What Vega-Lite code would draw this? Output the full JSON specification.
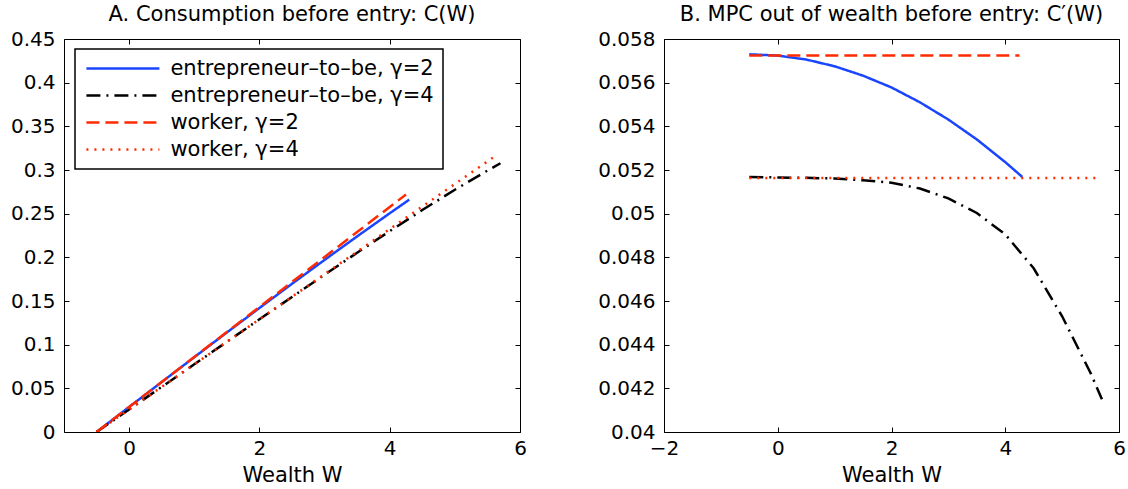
{
  "$schema": "https://vega.github.io/schema/vega-lite/v6.json",
  "background": "white",
  "padding": {"left": 9, "top": 3, "right": 5, "bottom": 5},
  "spacing": 144,
  "bounds": "flush",
  "config": {
    "view": {"stroke": "black", "strokeWidth": 1},
    "font": "DejaVu Sans",
    "axis": {
      "labelFont": "DejaVu Sans", "labelFontSize": 20, "labelColor": "black",
      "titleFont": "DejaVu Sans", "titleFontSize": 21, "titleFontWeight": "normal", "titleColor": "black",
      "domain": false, "grid": false, "tickColor": "black", "tickSize": -5, "labelPadding": 14, "titlePadding": 6,
      "labelOverlap": false, "labelFlush": false
    },
    "axisX": {"labelPadding": 11.5},
    "title": {"font": "DejaVu Sans", "fontSize": 21, "fontWeight": "normal", "color": "black", "offset": 4},
    "legend": {
      "orient": "none", "legendX": 11, "legendY": 10, "title": null,
      "symbolType": "M-4,0H4", "symbolSize": 333, "symbolOffset": 28.4,
      "labelFont": "DejaVu Sans", "labelFontSize": 21, "labelColor": "black", "labelLimit": 400,
      "strokeColor": "black", "strokeWidth": 1.5, "fillColor": "white", "padding": 9, "rowPadding": 5, "labelOffset": 37
    }
  },
  "datasets": {
    "level": [
      {"s": "entrepreneur–to–be, γ=2", "w": -0.5, "v": 0.0},
      {"s": "entrepreneur–to–be, γ=2", "w": 0.0, "v": 0.02864},
      {"s": "entrepreneur–to–be, γ=2", "w": 0.5, "v": 0.05722},
      {"s": "entrepreneur–to–be, γ=2", "w": 1.0, "v": 0.08568},
      {"s": "entrepreneur–to–be, γ=2", "w": 1.5, "v": 0.11395},
      {"s": "entrepreneur–to–be, γ=2", "w": 2.0, "v": 0.14198},
      {"s": "entrepreneur–to–be, γ=2", "w": 2.5, "v": 0.16971},
      {"s": "entrepreneur–to–be, γ=2", "w": 3.0, "v": 0.19706},
      {"s": "entrepreneur–to–be, γ=2", "w": 3.5, "v": 0.224},
      {"s": "entrepreneur–to–be, γ=2", "w": 4.0, "v": 0.25044},
      {"s": "entrepreneur–to–be, γ=2", "w": 4.3, "v": 0.26605},
      {"s": "entrepreneur–to–be, γ=4", "w": -0.5, "v": 0.0},
      {"s": "entrepreneur–to–be, γ=4", "w": 0.0, "v": 0.02584},
      {"s": "entrepreneur–to–be, γ=4", "w": 0.5, "v": 0.05166},
      {"s": "entrepreneur–to–be, γ=4", "w": 1.0, "v": 0.07747},
      {"s": "entrepreneur–to–be, γ=4", "w": 1.5, "v": 0.10326},
      {"s": "entrepreneur–to–be, γ=4", "w": 2.0, "v": 0.129},
      {"s": "entrepreneur–to–be, γ=4", "w": 2.5, "v": 0.15464},
      {"s": "entrepreneur–to–be, γ=4", "w": 3.0, "v": 0.1801},
      {"s": "entrepreneur–to–be, γ=4", "w": 3.5, "v": 0.20527},
      {"s": "entrepreneur–to–be, γ=4", "w": 4.0, "v": 0.23002},
      {"s": "entrepreneur–to–be, γ=4", "w": 4.5, "v": 0.25413},
      {"s": "entrepreneur–to–be, γ=4", "w": 5.0, "v": 0.27734},
      {"s": "entrepreneur–to–be, γ=4", "w": 5.5, "v": 0.29934},
      {"s": "entrepreneur–to–be, γ=4", "w": 5.7, "v": 0.30776},
      {"s": "worker, γ=2", "w": -0.5, "v": 0.0},
      {"s": "worker, γ=2", "w": 4.25, "v": 0.27194},
      {"s": "worker, γ=4", "w": -0.5, "v": 0.0},
      {"s": "worker, γ=4", "w": 5.65, "v": 0.31752}
    ],
    "mpc": [
      {"s": "entrepreneur–to–be, γ=2", "w": -0.5, "v": 0.0573},
      {"s": "entrepreneur–to–be, γ=2", "w": 0.0, "v": 0.05724},
      {"s": "entrepreneur–to–be, γ=2", "w": 0.5, "v": 0.05706},
      {"s": "entrepreneur–to–be, γ=2", "w": 1.0, "v": 0.05675},
      {"s": "entrepreneur–to–be, γ=2", "w": 1.5, "v": 0.05632},
      {"s": "entrepreneur–to–be, γ=2", "w": 2.0, "v": 0.05578},
      {"s": "entrepreneur–to–be, γ=2", "w": 2.5, "v": 0.0551},
      {"s": "entrepreneur–to–be, γ=2", "w": 3.0, "v": 0.05431},
      {"s": "entrepreneur–to–be, γ=2", "w": 3.5, "v": 0.0534},
      {"s": "entrepreneur–to–be, γ=2", "w": 4.0, "v": 0.05236},
      {"s": "entrepreneur–to–be, γ=2", "w": 4.3, "v": 0.05168},
      {"s": "entrepreneur–to–be, γ=4", "w": -0.5, "v": 0.05168},
      {"s": "entrepreneur–to–be, γ=4", "w": 0.0, "v": 0.05166},
      {"s": "entrepreneur–to–be, γ=4", "w": 0.5, "v": 0.05164},
      {"s": "entrepreneur–to–be, γ=4", "w": 1.0, "v": 0.05161},
      {"s": "entrepreneur–to–be, γ=4", "w": 1.5, "v": 0.05153},
      {"s": "entrepreneur–to–be, γ=4", "w": 2.0, "v": 0.05142},
      {"s": "entrepreneur–to–be, γ=4", "w": 2.5, "v": 0.05115},
      {"s": "entrepreneur–to–be, γ=4", "w": 3.0, "v": 0.0507},
      {"s": "entrepreneur–to–be, γ=4", "w": 3.5, "v": 0.05003},
      {"s": "entrepreneur–to–be, γ=4", "w": 4.0, "v": 0.04905},
      {"s": "entrepreneur–to–be, γ=4", "w": 4.5, "v": 0.0475},
      {"s": "entrepreneur–to–be, γ=4", "w": 5.0, "v": 0.0453},
      {"s": "entrepreneur–to–be, γ=4", "w": 5.5, "v": 0.0427},
      {"s": "entrepreneur–to–be, γ=4", "w": 5.7, "v": 0.0415},
      {"s": "worker, γ=2", "w": -0.5, "v": 0.05725},
      {"s": "worker, γ=2", "w": 4.25, "v": 0.05725},
      {"s": "worker, γ=4", "w": -0.5, "v": 0.05163},
      {"s": "worker, γ=4", "w": 5.65, "v": 0.05163}
    ]
  },
  "hconcat": [
    {
      "width": 456, "height": 393,
      "title": "A. Consumption before entry: C(W)",
      "data": {"name": "level"},
      "layer": [
        {
          "mark": {"type": "line", "clip": true},
          "encoding": {
            "x": {"field": "w", "type": "quantitative", "scale": {"domain": [-1, 6], "nice": false, "zero": false}, "axis": {"title": "Wealth W", "values": [0, 2, 4, 6]}},
            "y": {"field": "v", "type": "quantitative", "scale": {"domain": [0, 0.45], "nice": false}, "axis": {"title": null, "values": [0, 0.05, 0.1, 0.15, 0.2, 0.25, 0.3, 0.35, 0.4, 0.45], "format": ".2~f"}},
            "color": {"field": "s", "type": "nominal", "scale": {"domain": ["entrepreneur–to–be, γ=2", "entrepreneur–to–be, γ=4", "worker, γ=2", "worker, γ=4"], "range": ["#1a45ff", "#000000", "#ff2a00", "#ff2a00"]}, "legend": {"symbolType": "M-4,0H4"}},
            "strokeDash": {"field": "s", "type": "nominal", "scale": {"domain": ["entrepreneur–to–be, γ=2", "entrepreneur–to–be, γ=4", "worker, γ=2", "worker, γ=4"], "range": [[1, 0], [14, 6, 2, 6], [13, 6], [2, 6]]}},
            "strokeWidth": {"field": "s", "type": "nominal", "scale": {"domain": ["entrepreneur–to–be, γ=2", "entrepreneur–to–be, γ=4", "worker, γ=2", "worker, γ=4"], "range": [2.5, 2.5, 4, 1.5]}},
            "order": {"field": "w", "type": "quantitative"}
          }
        },
        {
          "mark": {"type": "point", "opacity": 0},
          "encoding": {
            "x": {"field": "w", "type": "quantitative", "axis": {"orient": "top", "labels": false, "title": null, "values": [0, 2, 4, 6]}},
            "y": {"field": "v", "type": "quantitative", "axis": {"orient": "right", "labels": false, "title": null, "values": [0, 0.05, 0.1, 0.15, 0.2, 0.25, 0.3, 0.35, 0.4, 0.45]}}
          }
        }
      ],
      "resolve": {"axis": {"x": "independent", "y": "independent"}}
    },
    {
      "width": 455, "height": 393,
      "title": "B. MPC out of wealth before entry: C′(W)",
      "data": {"name": "mpc"},
      "layer": [
        {
          "mark": {"type": "line", "clip": true},
          "encoding": {
            "x": {"field": "w", "type": "quantitative", "scale": {"domain": [-2, 6], "nice": false, "zero": false}, "axis": {"title": "Wealth W", "values": [-2, 0, 2, 4, 6]}},
            "y": {"field": "v", "type": "quantitative", "scale": {"domain": [0.04, 0.058], "nice": false, "zero": false}, "axis": {"title": null, "values": [0.04, 0.042, 0.044, 0.046, 0.048, 0.05, 0.052, 0.054, 0.056, 0.058], "format": ".3~f"}},
            "color": {"field": "s", "type": "nominal", "scale": {"domain": ["entrepreneur–to–be, γ=2", "entrepreneur–to–be, γ=4", "worker, γ=2", "worker, γ=4"], "range": ["#1a45ff", "#000000", "#ff2a00", "#ff2a00"]}, "legend": {"symbolType": "M-4,0H4"}},
            "strokeDash": {"field": "s", "type": "nominal", "scale": {"domain": ["entrepreneur–to–be, γ=2", "entrepreneur–to–be, γ=4", "worker, γ=2", "worker, γ=4"], "range": [[1, 0], [14, 6, 2, 6], [13, 6], [2, 6]]}},
            "strokeWidth": {"field": "s", "type": "nominal", "scale": {"domain": ["entrepreneur–to–be, γ=2", "entrepreneur–to–be, γ=4", "worker, γ=2", "worker, γ=4"], "range": [2.5, 2.5, 4, 1.5]}},
            "order": {"field": "w", "type": "quantitative"}
          }
        },
        {
          "mark": {"type": "point", "opacity": 0},
          "encoding": {
            "x": {"field": "w", "type": "quantitative", "axis": {"orient": "top", "labels": false, "title": null, "values": [-2, 0, 2, 4, 6]}},
            "y": {"field": "v", "type": "quantitative", "axis": {"orient": "right", "labels": false, "title": null, "values": [0.04, 0.042, 0.044, 0.046, 0.048, 0.05, 0.052, 0.054, 0.056, 0.058]}}
          }
        }
      ],
      "resolve": {"axis": {"x": "independent", "y": "independent"}}
    }
  ]
}
